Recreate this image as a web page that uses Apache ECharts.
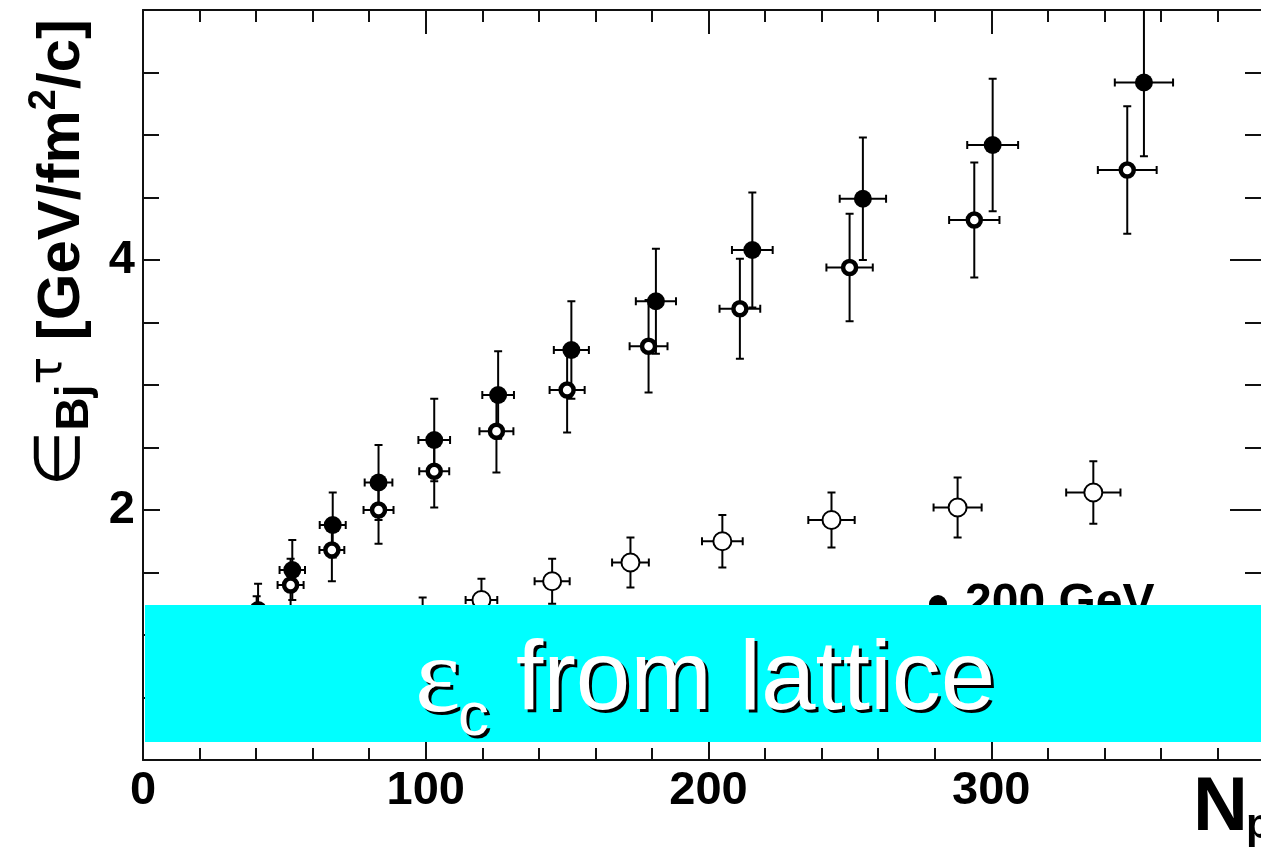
<!DOCTYPE html>
<html>
<head>
<meta charset="UTF-8">
<title>Bjorken energy density vs Npart</title>
<script src="https://cdn.jsdelivr.net/npm/echarts@6/dist/echarts.min.js"></script>
<style>
    html, body { margin: 0; padding: 0; background: #fff; overflow: hidden; }
    /* the frame runs a little past the right edge of the window, as in the original */
    #chart { width: 1277px; height: 853px; }
</style>
</head>
<body>
<div id="chart"></div>
<script>
// filled circles, 200 GeV
var npartFilled = [40.7, 52.8, 67.1, 83.3, 103.0, 125.6, 151.5, 181.4, 215.5, 254.6, 300.5, 354.0];
var epsFilled = [1.20, 1.52, 1.88, 2.22, 2.56, 2.92, 3.28, 3.67, 4.08, 4.49, 4.92, 5.42];
var yerrFilled = [0.21, 0.24, 0.26, 0.30, 0.33, 0.35, 0.39, 0.42, 0.46, 0.49, 0.53, 0.59];
var xerrFilled = [4.2, 4.5, 4.6, 4.9, 5.6, 5.6, 6.2, 7.1, 7.2, 8.2, 9.0, 10.3];

// thick open circles, just below the filled ones
var npartOpen = [40.2, 52.2, 66.8, 83.3, 103.0, 125.0, 150.0, 178.8, 211.1, 249.9, 294.0, 348.1];
var epsOpen = [1.12, 1.40, 1.68, 2.00, 2.31, 2.63, 2.96, 3.31, 3.61, 3.94, 4.32, 4.72];
var yerrOpen = [0.19, 0.21, 0.25, 0.27, 0.29, 0.33, 0.34, 0.37, 0.40, 0.43, 0.46, 0.51];
var xerrOpen = [4.2, 4.6, 4.4, 5.3, 5.3, 6.0, 6.2, 6.7, 7.2, 8.2, 8.9, 10.4];

// thin open circles, lower set
var npartLow = [98.9, 119.7, 144.7, 172.4, 204.9, 243.5, 288.1, 336.1];
var epsLow = [1.13, 1.28, 1.43, 1.58, 1.75, 1.92, 2.02, 2.14];
var yerrLow = [0.17, 0.17, 0.18, 0.20, 0.21, 0.22, 0.24, 0.25];
var xerrLow = [5.3, 5.6, 6.2, 6.5, 7.2, 8.2, 8.5, 9.6];

var xTickLabels = [0, 100, 200, 300];
var yTickLabels = [2, 4];

var FONT = 'Liberation Sans, Arial, sans-serif';

function toPoints(xs, ys, eys, exs) {
    var out = [];
    for (var i = 0; i < xs.length; i++) {
        out.push([xs[i], ys[i], eys[i], exs[i]]);
    }
    return out;
}

var filledPts = toPoints(npartFilled, epsFilled, yerrFilled, xerrFilled);
var openPts = toPoints(npartOpen, epsOpen, yerrOpen, xerrOpen);
var lowPts = toPoints(npartLow, epsLow, yerrLow, xerrLow);

// ROOT style error bars with little end caps
function renderErrorBars(params, api) {
    var x = api.value(0), y = api.value(1), ey = api.value(2), ex = api.value(3);
    var cs = params.coordSys;
    var c = api.coord([x, y]);
    var hi = api.coord([x, y + ey]);
    var lo = api.coord([x, y - ey]);
    var l = api.coord([x - ex, y]);
    var r = api.coord([x + ex, y]);
    var cap = 4;
    var top = Math.max(hi[1], cs.y);
    var segs = [
        [c[0], top, c[0], lo[1]],
        [c[0] - cap, lo[1], c[0] + cap, lo[1]],
        [l[0], c[1], r[0], c[1]],
        [l[0], c[1] - cap, l[0], c[1] + cap],
        [r[0], c[1] - cap, r[0], c[1] + cap]
    ];
    if (hi[1] >= cs.y) {
        segs.push([c[0] - cap, hi[1], c[0] + cap, hi[1]]);
    }
    return {
        type: 'group',
        children: segs.map(function (s) {
            return {
                type: 'line',
                shape: { x1: s[0], y1: s[1], x2: s[2], y2: s[3] },
                style: { stroke: '#000', lineWidth: 2 }
            };
        })
    };
}

function errSeries(name, data) {
    return {
        name: name,
        type: 'custom',
        renderItem: renderErrorBars,
        data: data,
        encode: { x: 0, y: 1 },
        z: 2,
        silent: true
    };
}

// onZero off so the top/right axes stay on the frame
var axisLine = { show: true, onZero: false, lineStyle: { color: '#111', width: 2 } };

var chart = echarts.init(document.getElementById('chart'), null, { renderer: 'canvas' });
var option = {
    animation: false,
    backgroundColor: '#fff',
    grid: { left: 143, right: 0, top: 10, bottom: 93 },
    legend: {
        data: [{ name: '200 GeV', icon: 'circle' }],
        left: 929,
        top: 580,
        padding: 0,
        itemWidth: 18,
        itemHeight: 18,
        textStyle: { fontSize: 48, fontWeight: 'bold', color: '#000', fontFamily: FONT, padding: [0, 0, 0, 13] }
    },
    xAxis: [
        {
            type: 'value', position: 'bottom', min: 0, max: 400, interval: 100,
            axisLine: axisLine,
            axisTick: { show: true, inside: true, length: 25, lineStyle: { color: '#111', width: 2 } },
            minorTick: { show: true, splitNumber: 5, length: 12, lineStyle: { color: '#111', width: 2 } },
            splitLine: { show: false },
            axisLabel: {
                margin: 8, fontSize: 47, fontWeight: 'bold', color: '#000', fontFamily: FONT,
                formatter: function (v) { return xTickLabels.indexOf(v) >= 0 ? String(v) : ''; }
            }
        },
        {
            type: 'value', position: 'top', min: 0, max: 400, interval: 100,
            axisLine: axisLine,
            axisTick: { show: true, inside: true, length: 24, lineStyle: { color: '#111', width: 2 } },
            minorTick: { show: true, splitNumber: 5, length: 12, lineStyle: { color: '#111', width: 2 } },
            splitLine: { show: false },
            axisLabel: { show: false }
        }
    ],
    yAxis: [
        {
            type: 'value', position: 'left', min: 0, max: 6, interval: 2,
            axisLine: axisLine,
            axisTick: { show: true, inside: true, length: 17, lineStyle: { color: '#111', width: 2 } },
            minorTick: { show: true, splitNumber: 4, length: 16, lineStyle: { color: '#111', width: 2 } },
            splitLine: { show: false },
            axisLabel: {
                margin: 8, fontSize: 47, fontWeight: 'bold', color: '#000', fontFamily: FONT,
                formatter: function (v) { return yTickLabels.indexOf(v) >= 0 ? String(v) : ''; }
            }
        },
        {
            type: 'value', position: 'right', min: 0, max: 6, interval: 2,
            axisLine: axisLine,
            axisTick: { show: true, inside: true, length: 44, lineStyle: { color: '#111', width: 2 } },
            minorTick: { show: true, splitNumber: 4, length: 29, lineStyle: { color: '#111', width: 2 } },
            splitLine: { show: false },
            axisLabel: { show: false }
        }
    ],
    series: [
        errSeries('errFilled', filledPts),
        errSeries('errOpen', openPts),
        errSeries('errLow', lowPts),
        {
            name: '200 GeV', type: 'scatter', data: filledPts, encode: { x: 0, y: 1 },
            symbol: 'circle', symbolSize: 18, z: 5,
            itemStyle: { color: '#000', opacity: 1 }
        },
        {
            name: 'open', type: 'scatter', data: openPts, encode: { x: 0, y: 1 },
            symbol: 'circle', symbolSize: 13, z: 6,
            itemStyle: { color: '#fff', borderColor: '#000', borderWidth: 4.5, opacity: 1 }
        },
        {
            name: 'low', type: 'scatter', data: lowPts, encode: { x: 0, y: 1 },
            symbol: 'circle', symbolSize: 18, z: 6,
            itemStyle: { color: '#fff', borderColor: '#000', borderWidth: 2, opacity: 1 }
        }
    ],
    graphic: [
        // y axis title, rotated
        {
            type: 'text', x: 98, y: 19, rotation: Math.PI / 2, z: 50,
            style: {
                text: '{e|\u2208}{s|Bj}{t|\u03c4}{b| [GeV/fm}{p|2}{b|/c]}',
                align: 'right', verticalAlign: 'bottom',
                rich: {
                    b: { fontSize: 60, fontWeight: 'bold', fontFamily: FONT, fill: '#000', lineHeight: 72 },
                    e: { fontSize: 64, fontFamily: 'DejaVu Sans', fill: '#000', lineHeight: 72 },
                    s: { fontSize: 46, fontWeight: 'bold', fontFamily: FONT, fill: '#000', lineHeight: 22, verticalAlign: 'bottom' },
                    t: { fontSize: 46, fontFamily: 'DejaVu Sans', fill: '#000', lineHeight: 30, verticalAlign: 'top' },
                    p: { fontSize: 38, fontWeight: 'bold', fontFamily: FONT, fill: '#000', lineHeight: 10, verticalAlign: 'top' }
                }
            }
        },
        // x axis title
        {
            type: 'text', x: 1193, y: 809, z: 50,
            style: { text: 'N', font: 'bold 76px ' + FONT, fill: '#000', align: 'left', verticalAlign: 'middle' }
        },
        {
            type: 'text', x: 1246, y: 826, z: 50,
            style: { text: 'part', font: 'bold 42px ' + FONT, fill: '#000', align: 'left', verticalAlign: 'middle' }
        },
        // cyan band with the lattice label on top of everything
        {
            type: 'rect', z: 100,
            shape: { x: 145, y: 605, width: 1140, height: 137 },
            style: { fill: '#00ffff' }
        },
        {
            type: 'text', x: 418, y: 686, z: 101,
            style: { text: '\u03b5', font: '108px Liberation Serif', fill: '#000', align: 'left', verticalAlign: 'middle' }
        },
        {
            type: 'text', x: 415, y: 683, z: 102,
            style: { text: '\u03b5', font: '108px Liberation Serif', fill: '#fff', align: 'left', verticalAlign: 'middle' }
        },
        {
            type: 'text', x: 461, y: 721, z: 101,
            style: { text: 'c', font: '62px ' + FONT, fill: '#000', align: 'left', verticalAlign: 'middle' }
        },
        {
            type: 'text', x: 458, y: 718, z: 102,
            style: { text: 'c', font: '62px ' + FONT, fill: '#fff', align: 'left', verticalAlign: 'middle' }
        },
        {
            type: 'text', x: 519, y: 685, z: 101,
            style: { text: 'from lattice', font: '98px ' + FONT, fill: '#000', align: 'left', verticalAlign: 'middle' }
        },
        {
            type: 'text', x: 516, y: 682, z: 102,
            style: { text: 'from lattice', font: '98px ' + FONT, fill: '#fff', align: 'left', verticalAlign: 'middle' }
        }
    ]
};
chart.setOption(option);
</script>
</body>
</html>
